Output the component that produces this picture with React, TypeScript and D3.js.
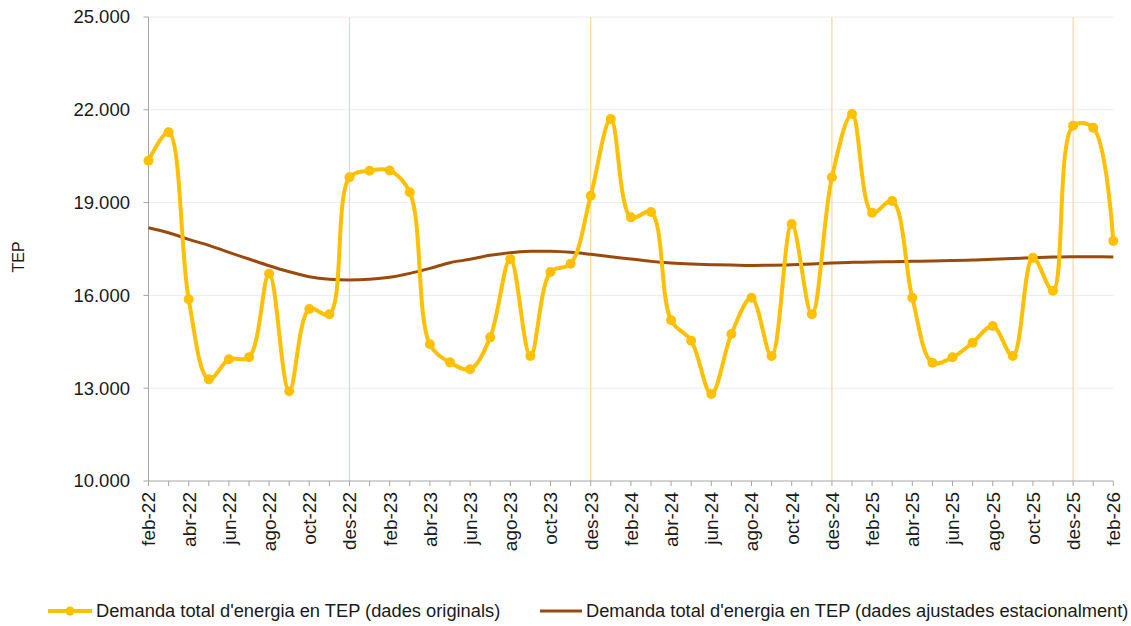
import React from "react";
import * as d3 from "d3";

const months = [
  "feb-22","mar-22","abr-22","mai-22","jun-22","jul-22","ago-22","set-22","oct-22","nov-22","des-22",
  "gen-23","feb-23","mar-23","abr-23","mai-23","jun-23","jul-23","ago-23","set-23","oct-23","nov-23","des-23",
  "gen-24","feb-24","mar-24","abr-24","mai-24","jun-24","jul-24","ago-24","set-24","oct-24","nov-24","des-24",
  "gen-25","feb-25","mar-25","abr-25","mai-25","jun-25","jul-25","ago-25","set-25","oct-25","nov-25","des-25",
  "gen-26","feb-26",
];

const original = [
  20354, 21272, 15873, 13286, 13933, 13998, 16701, 12899, 15559, 15388, 19817,
  20031, 20035, 19332, 14418, 13836, 13610, 14644, 17176, 14040, 16756, 17024, 19223,
  21702, 18523, 18695, 15194, 14536, 12811, 14751, 15925, 14040, 18307, 15388, 19817,
  21864, 18673, 19051, 15925, 13823, 13998, 14470, 15010, 14040, 17218, 16151, 21486,
  21421, 17758,
];

const adjusted = [
  18189, 18026, 17812, 17618, 17392, 17176, 16960, 16766, 16604, 16520, 16497,
  16520, 16584, 16713, 16875, 17057, 17166, 17295, 17380, 17424, 17424, 17392, 17327,
  17251, 17176, 17100, 17047, 17014, 16993, 16982, 16970, 16975, 16990, 17014, 17047,
  17068, 17080, 17090, 17100, 17110, 17125, 17145, 17166, 17190, 17218, 17240, 17250,
  17250, 17240,
];

const yTicks = [10000, 13000, 16000, 19000, 22000, 25000];
const seriesNames = [
  "Demanda total d'energia en TEP (dades originals)",
  "Demanda total d'energia en TEP (dades ajustades estacionalment)",
];
const yTitle = "TEP";

const W = 1131;
const H = 626;
const FONT = "'Liberation Sans', Arial, sans-serif";
const YELLOW = "#FFC000";
const BROWN = "#9A4A0C";

export default function App() {
  const x = d3.scaleLinear().domain([0, months.length - 1]).range([148.5, 1113.3]);
  const y = d3.scaleLinear().domain([10000, 25000]).range([481, 17]);
  const fmt = (v: number) => d3.format(",")(v).replace(/,/g, ".");

  const line = d3
    .line<number>()
    .x((_, i) => x(i))
    .y((d) => y(d))
    .curve(d3.curveCatmullRom.alpha(0.5));

  const desIdx = months.map((m, i) => (m.startsWith("des") ? i : -1)).filter((i) => i >= 0);

  return (
    <svg width={W} height={H} style={{ position: "absolute", left: 0, top: 0, background: "#fff" }} fontFamily={FONT}>
      <rect x={0} y={0} width={W} height={H} fill="#fff" />
      {yTicks.filter((t) => t > 10000).map((t) => (
        <line key={t} x1={x(0)} x2={x(months.length - 1)} y1={y(t)} y2={y(t)} stroke="#ececec" strokeWidth={1} />
      ))}
      {desIdx.map((i) => (
        <line key={i} x1={x(i)} x2={x(i)} y1={y(25000)} y2={y(10000)} stroke="#FAD99A" strokeWidth={1.2} />
      ))}
      <line x1={x(0)} x2={x(0)} y1={y(25000)} y2={y(10000)} stroke="#a6a6a6" strokeWidth={1} />
      <line x1={x(0)} x2={x(months.length - 1)} y1={y(10000)} y2={y(10000)} stroke="#a6a6a6" strokeWidth={1} />
      {yTicks.map((t) => (
        <g key={t}>
          <line x1={x(0) - 5} x2={x(0)} y1={y(t)} y2={y(t)} stroke="#a6a6a6" />
          <text x={130} y={y(t)} dy="0.35em" textAnchor="end" fontSize={18.5} fill="#1a1a1a">
            {fmt(t)}
          </text>
        </g>
      ))}
      {months.map((m, i) => (
        <line key={m} x1={x(i)} x2={x(i)} y1={y(10000)} y2={y(10000) + 5} stroke="#a6a6a6" />
      ))}
      {months.map((m, i) =>
        i % 2 === 0 ? (
          <text
            key={m}
            transform={`translate(${x(i)},492) rotate(-90)`}
            textAnchor="end"
            dy="0.36em"
            fontSize={19}
            fill="#1a1a1a"
          >
            {m}
          </text>
        ) : null
      )}
      <text transform={`translate(18,257) rotate(-90)`} textAnchor="middle" dy="0.35em" fontSize={16} fill="#1a1a1a">
        {yTitle}
      </text>
      <path d={line(adjusted) || ""} fill="none" stroke={BROWN} strokeWidth={3} />
      <path d={line(original) || ""} fill="none" stroke={YELLOW} strokeWidth={4} />
      {original.map((v, i) => (
        <circle key={i} cx={x(i)} cy={y(v)} r={5} fill={YELLOW} />
      ))}
      <line x1={48} x2={92} y1={611} y2={611} stroke={YELLOW} strokeWidth={4} />
      <circle cx={70} cy={611} r={4.5} fill={YELLOW} />
      <text x={96} y={611} dy="0.35em" fontSize={18.3} fill="#1a1a1a">{seriesNames[0]}</text>
      <line x1={540} x2={582} y1={611} y2={611} stroke={BROWN} strokeWidth={3} />
      <text x={586} y={611} dy="0.35em" fontSize={18.3} fill="#1a1a1a">{seriesNames[1]}</text>
    </svg>
  );
}
